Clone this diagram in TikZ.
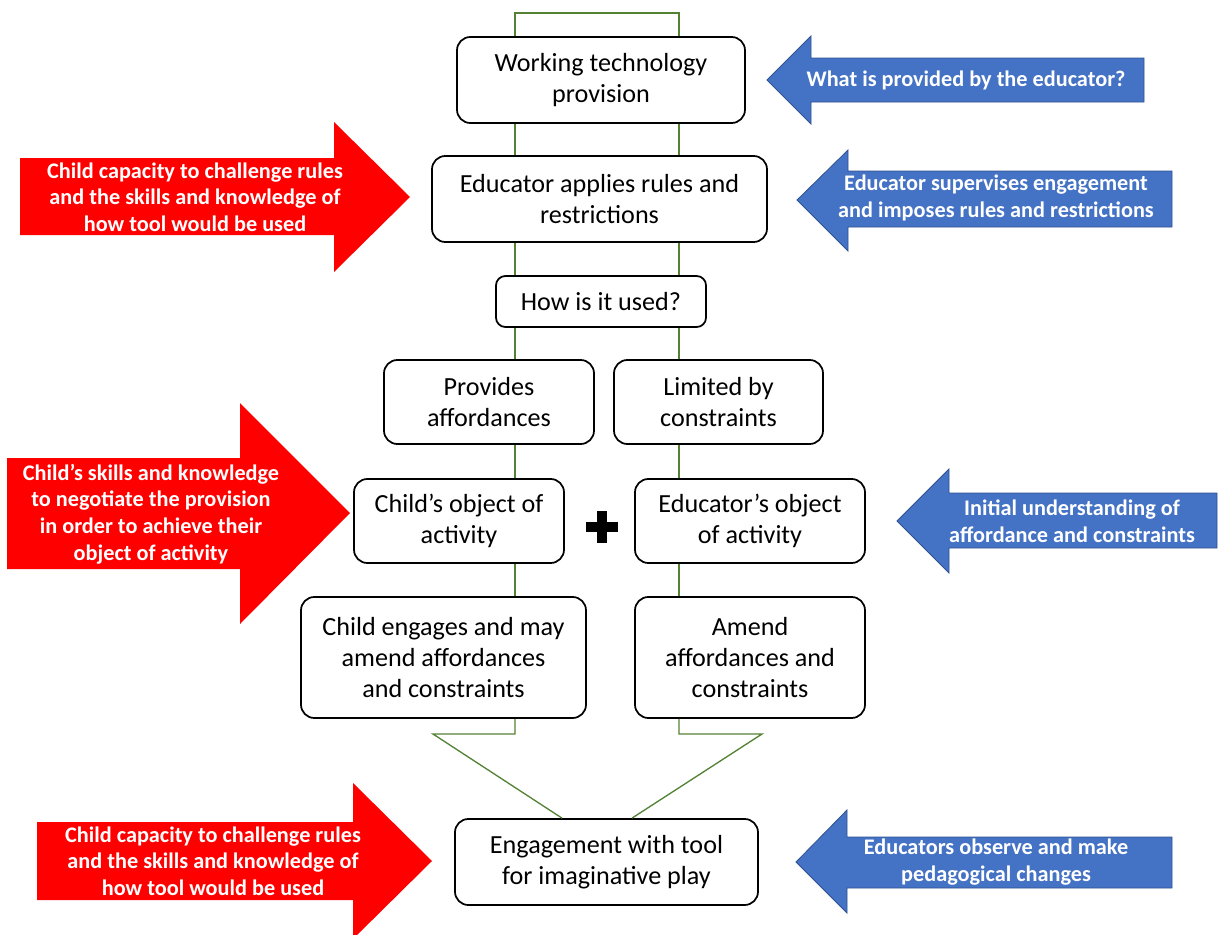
\documentclass[tikz,border=0pt]{standalone}
\usepackage{fontspec}
\setmainfont{Carlito}
\usetikzlibrary{calc}
\definecolor{flowgreen}{RGB}{84,130,53}
\definecolor{childred}{RGB}{255,0,0}
\definecolor{edublue}{RGB}{68,114,196}
\definecolor{eduedge}{RGB}{47,82,143}
\tikzset{
  stage/.style={draw=black, line width=1.3pt, rounded corners=10pt, fill=white,
    align=center, inner sep=0pt, font=\fontsize{19.6}{23.25}\selectfont},
  link/.style={draw=flowgreen, line width=1pt},
  redarrow/.style={fill=childred},
  bluearrow/.style={fill=edublue, draw=eduedge, line width=0.6pt},
  arrowtext/.style={text=white, align=center, inner sep=0pt,
    font=\fontsize{16.7}{20}\selectfont\bfseries},
  plusbar/.style={line width=7.5pt},
}
\begin{document}
\begin{tikzpicture}[x=0.75pt,y=-0.75pt]
\useasboundingbox (0,0) rectangle (1218,935);

% the two columns of the flow
\coordinate (L) at (515,0);
\coordinate (R) at (679,0);

% turning points of the green connectors
\coordinate (topL) at (515,13);
\coordinate (topR) at (679,13);
\coordinate (kinkL) at (515,734);
\coordinate (kinkR) at (679,734);
\coordinate (wingL) at (433,734);
\coordinate (wingR) at (762,734);
\coordinate (inL) at (562,0);
\coordinate (inR) at (632,0);

% stages
\node[stage, minimum width=216pt, minimum height=64.5pt] (b1) at (601,80) {Working technology\\provision};
\node[stage, minimum width=251.25pt, minimum height=64.5pt] (b2) at (599.5,199) {Educator applies rules and\\restrictions};
\node[stage, rounded corners=7pt, minimum width=157.5pt, minimum height=38.25pt] (b3) at (601,301.5) {How is it used?};
\node[stage, minimum width=157.5pt, minimum height=63pt] (b4) at (489,402) {Provides\\affordances};
\node[stage, minimum width=156.75pt, minimum height=63pt] (b5) at (718.5,402) {Limited by\\constraints};
\node[stage, minimum width=157.5pt, minimum height=63pt] (b6) at (459,521) {Child’s object of\\activity};
\node[stage, minimum width=172.5pt, minimum height=63pt] (b7) at (750,521) {Educator’s object\\of activity};
\node[stage, minimum width=213.75pt, minimum height=90.75pt] (b8) at (443.5,657.5) {Child engages and may\\amend affordances\\and constraints};
\node[stage, minimum width=172.5pt, minimum height=90.75pt] (b9) at (750,657.5) {Amend\\affordances and\\constraints};
\node[stage, minimum width=227.25pt, minimum height=64.5pt] (b10) at (606.5,862) {Engagement with tool\\for imaginative play};

% plus shape between the two objects of activity
\coordinate (plus) at (602,527);
\draw[plusbar] ($(plus)+(-16,0)$) -- ($(plus)+(16,0)$);
\draw[plusbar] ($(plus)+(0,-16)$) -- ($(plus)+(0,16)$);

% connectors between the stages
\draw[link] (b1.north -| L) -- (topL) -- (topR) -- (b1.north -| R);
\draw[link] (b1.south -| L) -- (b2.north -| L);
\draw[link] (b1.south -| R) -- (b2.north -| R);
\draw[link] (b2.south -| L) -- (b3.north -| L);
\draw[link] (b2.south -| R) -- (b3.north -| R);
\draw[link] (b3.south -| L) -- (b4.north -| L);
\draw[link] (b3.south -| R) -- (b5.north -| R);
\draw[link] (b4.south -| L) -- (b6.north -| L);
\draw[link] (b5.south -| R) -- (b7.north -| R);
\draw[link] (b6.south -| L) -- (b8.north -| L);
\draw[link] (b7.south -| R) -- (b9.north -| R);
\draw[link] (b8.south -| L) -- (kinkL) -- (wingL) -- (b10.north -| inL);
\draw[link] (b9.south -| R) -- (kinkR) -- (wingR) -- (b10.north -| inR);

% child-side arrows
\fill[redarrow] (20,158) -- (334,158) -- (334,122) -- (410,197) -- (334,272) -- (334,235) -- (20,235) -- cycle;
\node[arrowtext] (c1) at (195,197) {Child capacity to challenge rules\\and the skills and knowledge of\\how tool would be used};

\fill[redarrow] (7,458) -- (240,458) -- (240,403) -- (350,513) -- (240,624) -- (240,569) -- (7,569) -- cycle;
\node[arrowtext] (c2) at (151,514) {Child’s skills and knowledge\\to negotiate the provision\\in order to achieve their\\object of activity};

\fill[redarrow] (37,822) -- (353,822) -- (353,783) -- (432,861) -- (353,939) -- (353,900) -- (37,900) -- cycle;
\node[arrowtext] (c3) at (213,861) {Child capacity to challenge rules\\and the skills and knowledge of\\how tool would be used};

% educator-side arrows
\draw[bluearrow] (767,80) -- (811,36) -- (811,58) -- (1144,58) -- (1144,102) -- (811,102) -- (811,124) -- cycle;
\node[arrowtext] (e1) at (966,80) {What is provided by the educator?};

\draw[bluearrow] (797,200) -- (848,150) -- (848,171) -- (1172,171) -- (1172,227) -- (848,227) -- (848,251) -- cycle;
\node[arrowtext] (e2) at (996,198) {Educator supervises engagement\\and imposes rules and restrictions};

\draw[bluearrow] (897,521) -- (949,469) -- (949,493) -- (1217,493) -- (1217,548) -- (949,548) -- (949,573) -- cycle;
\node[arrowtext] (e3) at (1072,521) {Initial understanding of\\affordance and constraints};

\draw[bluearrow] (796,862) -- (847,810) -- (847,837) -- (1172,837) -- (1172,888) -- (847,888) -- (847,913) -- cycle;
\node[arrowtext] (e4) at (996,862) {Educators observe and make\\pedagogical changes};
\end{tikzpicture}
\end{document}
